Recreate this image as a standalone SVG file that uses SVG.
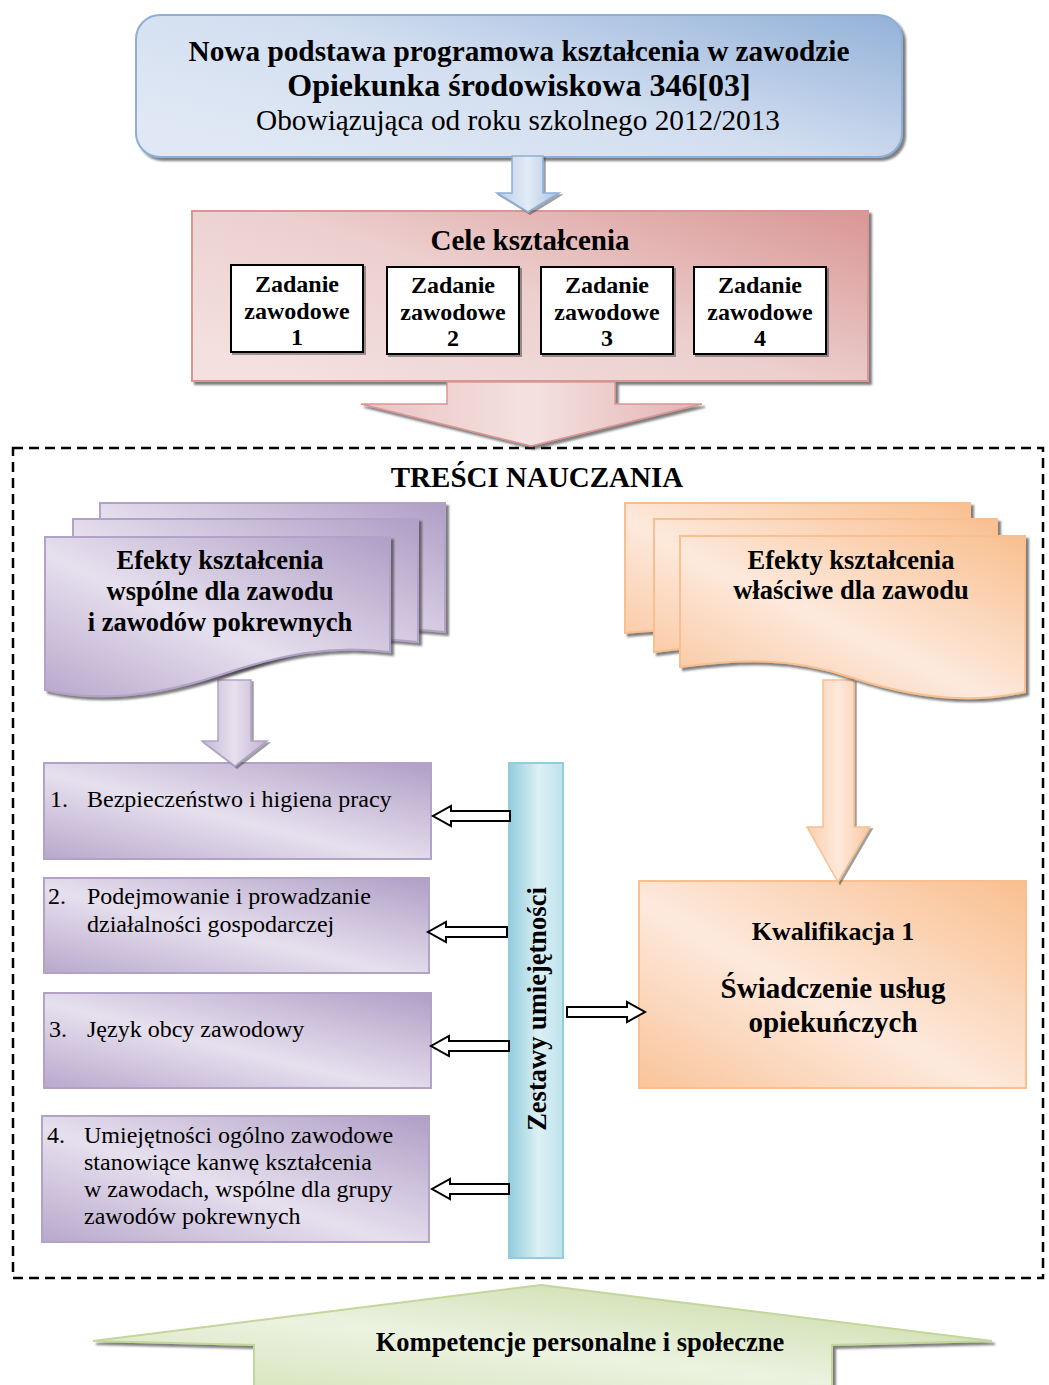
<svg xmlns="http://www.w3.org/2000/svg" width="1049" height="1385" viewBox="0 0 1049 1385">
<defs>
<style>
.t{font-family:"Liberation Serif","Times New Roman",serif;fill:#000}
.b{font-weight:bold}
.c{text-anchor:middle}
.wa{fill:#fff;stroke:#000;stroke-width:2;stroke-linejoin:miter}
.wb{fill:#fff;stroke:#000;stroke-width:2}
.dash{fill:none;stroke:#000;stroke-width:2.5;stroke-dasharray:10 6}
</style>
<filter id="sh" x="-10%" y="-10%" width="125%" height="130%"><feDropShadow dx="3" dy="3" stdDeviation="0.8" flood-color="#3a3a3a" flood-opacity="0.65"/></filter>
<filter id="sh2" x="-10%" y="-10%" width="125%" height="130%"><feDropShadow dx="2" dy="2" stdDeviation="0.6" flood-color="#3a3a3a" flood-opacity="0.5"/></filter>
<linearGradient id="gBlue" x1="0" y1="0.7" x2="1" y2="0"><stop offset="0" stop-color="#dfe8f4"/><stop offset="0.45" stop-color="#d2def0"/><stop offset="1" stop-color="#93b1d8"/></linearGradient>
<linearGradient id="gPink" x1="0" y1="0.8" x2="1" y2="0"><stop offset="0" stop-color="#f3e0df"/><stop offset="0.45" stop-color="#ecd0cf"/><stop offset="1" stop-color="#d99694"/></linearGradient>
<linearGradient id="gPur" x1="0" y1="1" x2="1" y2="0"><stop offset="0" stop-color="#b8a8cc"/><stop offset="0.45" stop-color="#e6e0ee"/><stop offset="1" stop-color="#b09ec6"/></linearGradient>
<linearGradient id="gOr" x1="0" y1="1" x2="1" y2="0"><stop offset="0" stop-color="#f9c49a"/><stop offset="0.45" stop-color="#fde9dc"/><stop offset="1" stop-color="#f9bf8f"/></linearGradient>
<linearGradient id="gCy" x1="0" y1="0" x2="1" y2="0"><stop offset="0" stop-color="#92cddd"/><stop offset="0.55" stop-color="#dcf0f5"/><stop offset="1" stop-color="#bfe2eb"/></linearGradient>
<linearGradient id="gGr" x1="0" y1="1" x2="1" y2="0"><stop offset="0" stop-color="#d3e2b6"/><stop offset="0.45" stop-color="#ecf2e0"/><stop offset="1" stop-color="#c3d69b"/></linearGradient>
<linearGradient id="gPurV" x1="0" y1="0" x2="1" y2="0"><stop offset="0" stop-color="#c5b8d6"/><stop offset="0.5" stop-color="#e7e1ee"/><stop offset="1" stop-color="#c0b1d3"/></linearGradient>
<linearGradient id="gOrV" x1="0" y1="0" x2="1" y2="0"><stop offset="0" stop-color="#fbcfac"/><stop offset="0.5" stop-color="#fde9dc"/><stop offset="1" stop-color="#f9c9a2"/></linearGradient>
<linearGradient id="gBlV" x1="0" y1="0" x2="1" y2="0"><stop offset="0" stop-color="#b9cde8"/><stop offset="0.5" stop-color="#e3ebf6"/><stop offset="1" stop-color="#a9c2e2"/></linearGradient>
<linearGradient id="gPkV" x1="0" y1="0" x2="1" y2="0"><stop offset="0" stop-color="#e9c3c2"/><stop offset="0.5" stop-color="#f4e2e1"/><stop offset="1" stop-color="#e3b2b1"/></linearGradient>
</defs>
<rect width="1049" height="1385" fill="#fff"/>

<g id="tresci-frame">
<rect class="dash" x="13" y="448" width="1030" height="830"/>
<text class="t b c" x="537" y="487" font-size="29">TREŚCI NAUCZANIA</text>
</g>

<g id="title">
<rect x="136" y="15" width="766" height="142" rx="24" fill="url(#gBlue)" stroke="#8daed6" stroke-width="2" filter="url(#sh)"/>
<text class="t b c" x="519" y="61" font-size="29.3">Nowa podstawa programowa kształcenia w zawodzie</text>
<text class="t b c" x="519" y="96" font-size="32">Opiekunka środowiskowa 346[03]</text>
<text class="t c" x="518" y="130" font-size="29.3">Obowiązująca od roku szkolnego 2012/2013</text>
</g>

<g id="cele">
<rect x="192" y="211" width="676" height="170" fill="url(#gPink)" stroke="#d99694" stroke-width="2" filter="url(#sh)"/>
<text class="t b c" x="530" y="250" font-size="29">Cele kształcenia</text>
</g>
<g id="zadanie1"><rect class="wb" x="231" y="265" width="132" height="87" filter="url(#sh2)"/><text class="t b c" font-size="24" x="297"><tspan x="297" y="292">Zadanie</tspan><tspan x="297" y="319">zawodowe</tspan><tspan x="297" y="345">1</tspan></text></g>
<g id="zadanie2"><rect class="wb" x="387" y="267" width="132" height="87" filter="url(#sh2)"/><text class="t b c" font-size="24" x="453"><tspan x="453" y="293">Zadanie</tspan><tspan x="453" y="320">zawodowe</tspan><tspan x="453" y="346">2</tspan></text></g>
<g id="zadanie3"><rect class="wb" x="541" y="267" width="132" height="87" filter="url(#sh2)"/><text class="t b c" font-size="24" x="607"><tspan x="607" y="293">Zadanie</tspan><tspan x="607" y="320">zawodowe</tspan><tspan x="607" y="346">3</tspan></text></g>
<g id="zadanie4"><rect class="wb" x="694" y="267" width="132" height="87" filter="url(#sh2)"/><text class="t b c" font-size="24" x="760"><tspan x="760" y="293">Zadanie</tspan><tspan x="760" y="320">zawodowe</tspan><tspan x="760" y="346">4</tspan></text></g>

<g id="item1">
<rect x="44" y="763" width="387" height="96" fill="url(#gPur)" stroke="#b3a2c8" stroke-width="2"/>
<text class="t" font-size="24" y="807"><tspan x="50">1.</tspan><tspan x="87">Bezpieczeństwo i higiena pracy</tspan></text>
</g>
<g id="item2">
<rect x="44" y="878" width="385" height="95" fill="url(#gPur)" stroke="#b3a2c8" stroke-width="2"/>
<text class="t" font-size="24"><tspan x="48" y="904">2.</tspan><tspan x="87" y="904">Podejmowanie i prowadzanie</tspan><tspan x="87" y="932">działalności gospodarczej</tspan></text>
</g>
<g id="item3">
<rect x="44" y="993" width="387" height="95" fill="url(#gPur)" stroke="#b3a2c8" stroke-width="2"/>
<text class="t" font-size="24" y="1037"><tspan x="49">3.</tspan><tspan x="87">Język obcy zawodowy</tspan></text>
</g>
<g id="item4">
<rect x="42" y="1116" width="387" height="126" fill="url(#gPur)" stroke="#b3a2c8" stroke-width="2"/>
<text class="t" font-size="24"><tspan x="47" y="1143">4.</tspan><tspan x="84" y="1143">Umiejętności ogólno zawodowe</tspan><tspan x="84" y="1170">stanowiące kanwę kształcenia</tspan><tspan x="84" y="1197">w zawodach, wspólne dla grupy</tspan><tspan x="84" y="1224">zawodów pokrewnych</tspan></text>
</g>

<g id="zestawy">
<rect x="509" y="763" width="54" height="495" fill="url(#gCy)" stroke="#93cddd" stroke-width="2"/>
<text class="t b c" font-size="26.5" transform="translate(546,1009) rotate(-90)" x="0" y="0">Zestawy umiejętności</text>
</g>

<g id="kwalifikacja">
<rect x="639" y="881" width="387" height="207" fill="url(#gOr)" stroke="#f9bf8f" stroke-width="2"/>
<text class="t b c" x="833" y="940" font-size="26">Kwalifikacja 1</text>
<text class="t b c" x="833" y="998" font-size="29">Świadczenie usług</text>
<text class="t b c" x="833" y="1032" font-size="29">opiekuńczych</text>
</g>

<g id="connectors">
<polygon points="512,156 543,156 543,193 559,193 528,212 497,193 512,193" fill="url(#gBlV)" stroke="#8daed6" stroke-width="1.5" filter="url(#sh2)"/>
<polygon points="447,382 615,382 615,404 702,404 531,446 361,404 447,404" fill="url(#gPkV)" stroke="#d99694" stroke-width="1.5" filter="url(#sh)"/>
<polygon points="218,680 251,680 251,741 267,741 235,766 202,741 218,741" fill="url(#gPurV)" stroke="#b3a2c8" stroke-width="1.5" filter="url(#sh2)"/>
<polygon points="823,680 854,680 854,827 870,827 838,882 807,827 823,827" fill="url(#gOrV)" stroke="#f9bf8f" stroke-width="1.5" filter="url(#sh2)"/>
<polygon class="wa" points="510,811 451,811 451,806 433,816 451,826 451,821 510,821"/>
<polygon class="wa" points="507,927 446,927 446,922 428,932 446,942 446,937 507,937"/>
<polygon class="wa" points="509,1041 449,1041 449,1036 431,1046 449,1056 449,1051 509,1051"/>
<polygon class="wa" points="509,1184 450,1184 450,1179 432,1189 450,1199 450,1194 509,1194"/>
<polygon class="wa" points="567,1007 627,1007 627,1002 645,1012 627,1022 627,1017 567,1017"/>
</g>

<g id="efekty-wspolne">
<path d="M100,503 H445 V632 C385,624 335,635 275,655 C215,675 155,683 100,670 Z" fill="url(#gPur)" stroke="#b3a2c8" stroke-width="2" filter="url(#sh)"/>
<path d="M73,519 H418 V642 C358,634 308,645 248,665 C188,685 128,693 73,680 Z" fill="url(#gPur)" stroke="#b3a2c8" stroke-width="2" filter="url(#sh)"/>
<path d="M45,537 H390 V652 C330,644 280,655 220,675 C160,695 100,703 45,690 Z" fill="url(#gPur)" stroke="#b3a2c8" stroke-width="2" filter="url(#sh)"/>
<text class="t b c" font-size="26.5"><tspan x="220" y="569">Efekty kształcenia</tspan><tspan x="220" y="600">wspólne dla zawodu</tspan><tspan x="220" y="631">i zawodów pokrewnych</tspan></text>
</g>

<g id="efekty-wlasciwe">
<path d="M625,503 H970 V660 C915,673 855,665 795,645 C735,625 685,628 625,633 Z" fill="url(#gOr)" stroke="#f9bf8f" stroke-width="2" filter="url(#sh)"/>
<path d="M654,519 H997 V677 C942,690 882,682 822,662 C762,642 714,644 654,652 Z" fill="url(#gOr)" stroke="#f9bf8f" stroke-width="2" filter="url(#sh)"/>
<path d="M680,536 H1025 V692 C970,705 910,697 850,677 C790,657 740,659 680,667 Z" fill="url(#gOr)" stroke="#f9bf8f" stroke-width="2" filter="url(#sh)"/>
<text class="t b c" font-size="26.5"><tspan x="851" y="569">Efekty kształcenia</tspan><tspan x="851" y="599">właściwe dla zawodu</tspan></text>
</g>

<g id="kompetencje">
<polygon points="541,1285 992,1341 832,1345 832,1392 254,1392 254,1345 93,1341" fill="url(#gGr)" stroke="#c3d69b" stroke-width="2" filter="url(#sh)"/>
<text class="t b c" x="580" y="1351" font-size="26.5">Kompetencje personalne i społeczne</text>
</g>
</svg>
